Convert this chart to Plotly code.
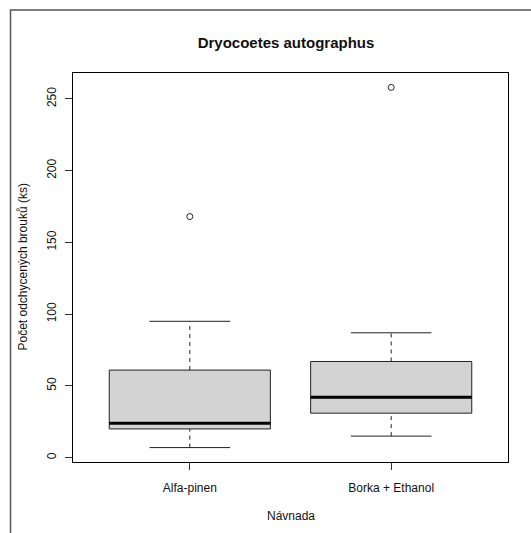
import plotly.graph_objects as go

# Summary statistics per bait type (Tukey boxplot, counts of beetles)
categories = ["Alfa-pinen", "Borka + Ethanol"]
lower_whisker = [7, 15]
q1 = [20, 31]
median = [24, 42]
q3 = [61, 67]
upper_whisker = [95, 87]
outliers = [[168], [258]]

y_ticks = [0, 50, 100, 150, 200, 250]

title_text = "Dryocoetes autographus"
x_title = "Návnada"
y_title = "Počet odchycených brouků (ks)"

FONT = "Liberation Sans, Arial, sans-serif"
BOX_HALF = 0.4      # boxwex 0.8
STAPLE_HALF = 0.2   # staple is half the box width

fig = go.Figure()

for i, cat in enumerate(categories):
    x = i + 1
    # filled box from Q1 to Q3
    fig.add_trace(go.Scatter(
        x=[x - BOX_HALF, x + BOX_HALF, x + BOX_HALF, x - BOX_HALF, x - BOX_HALF],
        y=[q1[i], q1[i], q3[i], q3[i], q1[i]],
        mode="lines", fill="toself", fillcolor="#D3D3D3",
        line=dict(color="#222222", width=1), hoverinfo="skip", showlegend=False))
    # median
    fig.add_trace(go.Scatter(
        x=[x - BOX_HALF, x + BOX_HALF], y=[median[i], median[i]],
        mode="lines", line=dict(color="black", width=3),
        hoverinfo="skip", showlegend=False))
    # dashed whiskers
    for a, b in ((lower_whisker[i], q1[i]), (q3[i], upper_whisker[i])):
        fig.add_trace(go.Scatter(
            x=[x, x], y=[a, b], mode="lines",
            line=dict(color="#222222", width=1, dash="4px,4px"),
            hoverinfo="skip", showlegend=False))
    # staples
    for v in (lower_whisker[i], upper_whisker[i]):
        fig.add_trace(go.Scatter(
            x=[x - STAPLE_HALF, x + STAPLE_HALF], y=[v, v], mode="lines",
            line=dict(color="#222222", width=1),
            hoverinfo="skip", showlegend=False))
    # outliers
    fig.add_trace(go.Scatter(
        x=[x] * len(outliers[i]), y=outliers[i], mode="markers",
        marker=dict(symbol="circle-open", size=6, color="#222222",
                    line=dict(width=1)),
        hoverinfo="skip", showlegend=False))

# axis ranges extended by 4% like R's default
all_vals = lower_whisker + upper_whisker + [v for o in outliers for v in o]
lo, hi = min(all_vals), max(all_vals)
pad = (hi - lo) * 0.04
n = len(categories)
xpad = n * 0.04

fig.update_layout(
    width=531, height=533,
    margin=dict(l=73, r=23, t=73, b=71),
    paper_bgcolor="white", plot_bgcolor="white",
    font=dict(family=FONT, size=12, color="#111111"),
    title=dict(text="<b>" + title_text + "</b>", x=286 / 531,
               xanchor="center", y=1 - 43 / 533, yanchor="middle",
               font=dict(family=FONT, size=15, color="#111111")),
    xaxis=dict(range=[0.5 - xpad, n + 0.5 + xpad], tickvals=list(range(1, n + 1)),
               ticktext=categories, ticks="outside", ticklen=7, tickcolor="#333333",
               showline=True, mirror=True, linecolor="black", linewidth=1,
               showgrid=False, zeroline=False, ticklabelstandoff=8,
               tickfont=dict(family=FONT, size=12, color="#111111")),
    yaxis=dict(range=[lo - pad, hi + pad], tickvals=y_ticks, tickangle=-90,
               ticks="outside", ticklen=7, tickcolor="#333333",
               showline=True, mirror=True, linecolor="black", linewidth=1,
               showgrid=False, zeroline=False, ticklabelstandoff=4,
               tickfont=dict(family=FONT, size=12, color="#111111")),
    annotations=[
        dict(text=x_title, xref="paper", yref="paper", x=0.5, y=0,
             yshift=-54, showarrow=False, xanchor="center", yanchor="middle",
             font=dict(family=FONT, size=12, color="#111111")),
        dict(text=y_title, xref="paper", yref="paper", x=0, y=0.5,
             xshift=-51, textangle=-90, showarrow=False,
             xanchor="center", yanchor="middle",
             font=dict(family=FONT, size=12, color="#111111")),
    ],
    shapes=[
        # outer figure frame
        dict(type="rect", xref="paper", yref="paper",
             x0=(10.5 - 73) / 435, x1=1.3, y0=-0.3, y1=(462 - 10) / 389,
             line=dict(color="#555555", width=1.5), layer="below"),
    ],
)

fig.write_html("out.html")
